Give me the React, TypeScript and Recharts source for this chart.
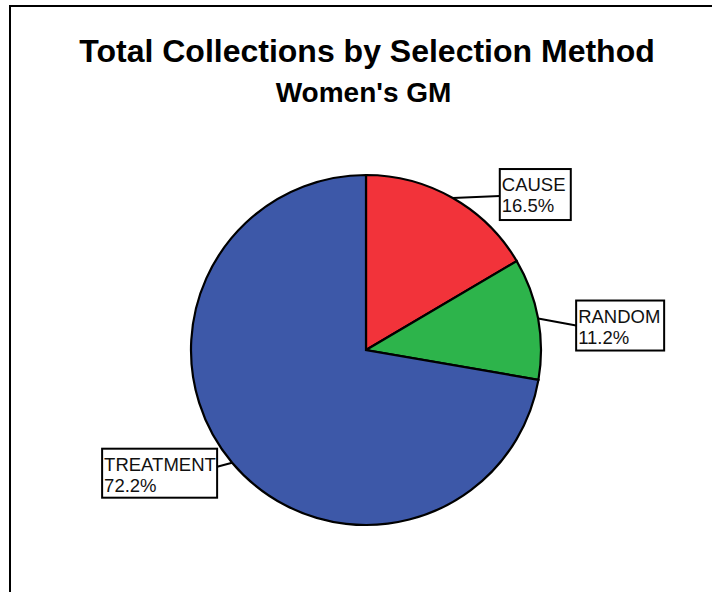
import * as React from "react";
import { PieChart, Pie, Cell } from "recharts";

// ── Data ────────────────────────────────────────────────────────────────

const methods = ["CAUSE", "RANDOM", "TREATMENT"];
const shares = [16.5, 11.2, 72.2];
const sliceColors = ["#F2333A", "#2DB44B", "#3D58A8"];

const chartData = methods.map((name, i) => ({ name, value: shares[i] }));

// ── Layout ──────────────────────────────────────────────────────────────

const W = 712;
const H = 593;
const CX = 366;
const CY = 350;
const R = 175;
const FONT = "'Liberation Sans', Arial, Helvetica, sans-serif";
const RAD = Math.PI / 180;

// Callout boxes, placed relative to the point where the slice's mid-angle meets the rim
const callouts = [
  { dx: 47, dy: -29, w: 71, h: 51, lineY: 27 },
  { dx: 38, dy: -18, w: 88, h: 50, lineY: 25 },
  { dx: -130, dy: -14, w: 115, h: 49, lineY: 18 },
];

// eslint-disable-next-line @typescript-eslint/no-explicit-any
function CalloutLabel(props: any) {
  const { cx, cy, midAngle, outerRadius, index, name, value } = props;
  const c = callouts[index];
  if (!c) return null;
  const ex = cx + outerRadius * Math.cos(-midAngle * RAD);
  const ey = cy + outerRadius * Math.sin(-midAngle * RAD);
  const bx = ex + c.dx;
  const by = ey + c.dy;
  const onRight = c.dx > 0;
  const lx = onRight ? bx : bx + c.w;
  const ly = by + c.lineY;
  return (
    <g>
      <line x1={ex} y1={ey} x2={lx} y2={ly} stroke="#000" strokeWidth={2} />
      <rect x={bx} y={by} width={c.w} height={c.h} fill="#fff" stroke="#000" strokeWidth={2} />
      <text x={bx + 2} y={by + 22} fontSize={18.5} fontFamily={FONT} fill="#111">{name}</text>
      <text x={bx + 2} y={by + 43} fontSize={18.5} fontFamily={FONT} fill="#111">
        {`${Number(value).toFixed(1)}%`}
      </text>
    </g>
  );
}

export default function App() {
  return (
    <div style={{ position: "absolute", left: 0, top: 0, width: W, height: H, background: "#fff" }}>
      <PieChart width={W} height={H} margin={{ top: 0, right: 0, bottom: 0, left: 0 }}>
        <Pie
          data={chartData}
          dataKey="value"
          nameKey="name"
          cx={CX}
          cy={CY}
          outerRadius={R}
          startAngle={90}
          endAngle={-270}
          stroke="#000"
          strokeWidth={2.2}
          label={CalloutLabel}
          labelLine={false}
          isAnimationActive={false}
        >
          {chartData.map((d, i) => (
            <Cell key={d.name} fill={sliceColors[i]} />
          ))}
        </Pie>
      </PieChart>
      <svg
        width={W}
        height={H}
        style={{ position: "absolute", left: 0, top: 0, pointerEvents: "none" }}
      >
        <line x1={10} y1={6} x2={W} y2={6} stroke="#000" strokeWidth={2} />
        <line x1={10} y1={5} x2={10} y2={592} stroke="#000" strokeWidth={2} />
        <text x={367} y={62} textAnchor="middle" fontSize={32} fontWeight="bold" fontFamily={FONT} fill="#000">
          Total Collections by Selection Method
        </text>
        <text x={363.5} y={101.5} textAnchor="middle" fontSize={28} fontWeight="bold" fontFamily={FONT} fill="#000">
          Women's GM
        </text>
      </svg>
    </div>
  );
}
